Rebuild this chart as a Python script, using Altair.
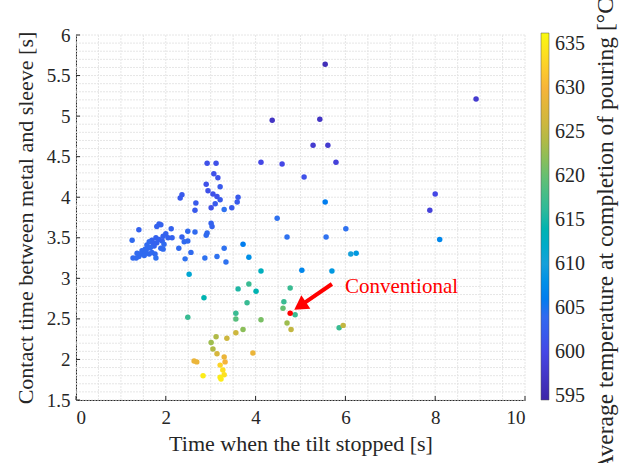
import altair as alt
import pandas as pd

# ---- data ----
tilt_time = [
    5.55, 8.91, 4.37, 5.43, 5.28, 5.61, 4.12, 4.59, 5.79, 5.08, 8.00, 7.88,
    2.92, 3.12, 3.07, 3.16, 2.90, 3.21, 2.94, 3.05, 3.14, 2.36, 2.32, 3.21,
    3.61, 3.59, 3.47, 3.10, 2.67, 3.01, 2.65, 3.30,
    4.48, 5.55, 6.01, 8.10, 4.70, 5.57, 6.12, 6.24, 5.70, 5.03, 4.12,
    1.85, 1.89, 1.80, 1.40, 2.12, 2.49, 2.65, 2.92, 3.01, 3.03, 2.90, 1.25,
    2.36, 2.41, 2.49, 2.00, 1.94, 2.05, 2.14, 1.69, 1.78, 1.85, 1.63, 1.71,
    1.80, 1.92, 1.96, 1.89, 1.94, 1.58, 1.60, 1.54, 1.47, 1.49, 1.43, 1.40,
    1.34, 1.27, 1.36, 1.63, 1.69, 1.76, 1.78, 2.29, 2.56, 2.43, 2.87, 3.14,
    3.34, 3.30, 3.72, 3.85, 2.52, 1.56, 1.52, 1.74, 1.66,
    3.85, 3.61, 4.01, 4.77, 2.85, 3.81, 4.63, 4.61, 4.88, 3.56, 2.49, 3.56,
    4.12, 4.70, 4.79, 5.86, 5.95, 3.72, 3.56, 3.12, 3.36, 3.01, 3.05, 3.14,
    3.30, 3.94, 2.63, 2.69, 3.32, 3.21, 3.27, 3.30, 3.21, 3.23, 2.83,
]
contact_time = [
    5.64, 5.21, 4.95, 4.96, 4.64, 4.64, 4.43, 4.41, 4.43, 4.25, 4.04, 3.84,
    4.42, 4.42, 4.29, 4.24, 4.16, 4.13, 4.08, 4.04, 4.01, 4.03, 3.99, 3.97,
    4.00, 3.94, 3.87, 3.92, 3.93, 3.87, 3.84, 3.85,
    3.74, 3.94, 3.61, 3.48, 3.51, 3.51, 3.30, 3.31, 3.09, 3.10, 3.09,
    3.67, 3.66, 3.64, 3.60, 3.61, 3.58, 3.57, 3.56, 3.68, 3.64, 3.53, 3.47,
    3.51, 3.45, 3.46, 3.55, 3.52, 3.50, 3.50, 3.47, 3.50, 3.48, 3.45, 3.44,
    3.44, 3.46, 3.42, 3.37, 3.36, 3.41, 3.37, 3.36, 3.34, 3.30, 3.30, 3.27,
    3.25, 3.25, 3.31, 3.30, 3.32, 3.30, 3.25, 3.37, 3.32, 3.24, 3.25, 3.27,
    3.20, 3.37, 3.42, 3.26, 3.05, 3.32, 3.28, 3.40, 3.38,
    2.93, 2.87, 2.84, 2.88, 2.76, 2.70, 2.71, 2.63, 2.55, 2.57, 2.52, 2.50,
    2.49, 2.45, 2.37, 2.39, 2.42, 2.37, 2.33, 2.28, 2.26, 2.21, 2.13, 2.07,
    2.03, 2.08, 1.98, 1.97, 1.97, 1.93, 1.87, 1.81, 1.78, 1.76, 1.80,
]
avg_temp = [
    596, 598, 597, 597, 598, 598, 600, 600, 599, 601, 600, 599,
    601, 601, 601, 601, 601, 602, 601, 601, 601, 602, 602, 602,
    602, 602, 602, 602, 602, 601, 602, 605,
    605, 606, 605, 607, 605, 605, 610, 609, 609, 607, 613,
    603, 603, 603, 603, 603, 604, 604, 604, 603, 603, 604, 604,
    603, 604, 604, 603, 603, 603, 603, 603, 603, 603, 604, 603,
    603, 603, 604, 604, 604, 604, 604, 604, 604, 604, 604, 604,
    604, 604, 604, 604, 604, 604, 605, 604, 604, 605, 605, 605,
    605, 605, 606, 608, 611, 604, 604, 603, 604,
    617, 615, 614, 617, 614, 617, 617, 620, 617, 617, 617, 619,
    621, 623, 625, 617, 625, 622, 626, 624, 626, 623, 624, 627,
    629, 629, 629, 629, 630, 633, 634, 634, 635, 635, 635,
]

conv_x = [4.77]
conv_y = [2.57]
conv_label = ["Conventional"]
label_x = [5.99]
label_y = [2.89]
arrow_x = [5.70]
arrow_y = [2.93]
arrow_x2 = [4.99]
arrow_y2 = [2.66]

x_major = [0, 2, 4, 6, 8, 10]
y_major = [1.5, 2, 2.5, 3, 3.5, 4, 4.5, 5, 5.5, 6]
x_grid = [i * 0.5 for i in range(21)]
y_grid = [round(1.5 + i * 0.1, 2) for i in range(46)]

temp_domain = [594.5, 600, 605, 610, 615, 620, 625, 630, 636.3]
temp_colors = ["#3e26a8", "#4547e6", "#2f72f0", "#16a0da", "#1fb6a4",
               "#66bf72", "#c3b742", "#f6b43a", "#f9fb0e"]
temp_ticks = [595, 600, 605, 610, 615, 620, 625, 630, 635]
cbar_title = ["Average temperature at completion of pouring [°C]"]

FONT = "Liberation Serif"
TXT = "#262626"
W, H = 449, 365

df = pd.DataFrame({"t": tilt_time, "c": contact_time, "T": avg_temp})

xs = alt.Scale(domain=[0, 10], nice=False, zero=False)
ys = alt.Scale(domain=[1.5, 6], nice=False, zero=False)
AX = alt.Axis(title="Time when the tilt stopped [s]", values=x_major, format="~r",
              grid=False, tickSize=0, labelPadding=8, titlePadding=6,
              labelFont=FONT, labelFontSize=19, titleFont=FONT, titleFontSize=22,
              titleFontWeight="normal", labelColor=TXT, titleColor=TXT)
AY = alt.Axis(title="Contact time between metal and sleeve [s]", values=y_major,
              format="~r", grid=False, tickSize=0, labelPadding=6, titlePadding=9,
              labelFont=FONT, labelFontSize=19, titleFont=FONT, titleFontSize=22,
              titleFontWeight="normal", labelColor=TXT, titleColor=TXT)


def X(f):
    return alt.X(f, type="quantitative", scale=xs, axis=AX)


def Y(f):
    return alt.Y(f, type="quantitative", scale=ys, axis=AY)


gx = alt.Chart(pd.DataFrame({"g": x_grid})).mark_rule(
    color="#e6e6e6", strokeWidth=1, strokeDash=[2, 1]
).encode(x=X("g"))

gy = alt.Chart(pd.DataFrame({"g": y_grid})).mark_rule(
    color="#e6e6e6", strokeWidth=1, strokeDash=[2, 1]
).encode(y=Y("g"))

pts = alt.Chart(df).mark_circle(size=30, opacity=1).encode(
    x=X("t"),
    y=Y("c"),
    color=alt.Color("T:Q", scale=alt.Scale(domain=temp_domain, range=temp_colors),
                    legend=alt.Legend(
                        title=None, orient="none", legendX=465, legendY=-2,
                        direction="vertical", gradientLength=367,
                        gradientThickness=8, values=temp_ticks, padding=0,
                        labelFont=FONT, labelFontSize=20, labelColor=TXT,
                        labelOffset=6, gradientStrokeColor="#555555",
                        gradientStrokeWidth=0.5)),
)

xticks = alt.Chart(pd.DataFrame({"v": x_major})).mark_rule(
    color=TXT).encode(x=X("v"), y=alt.value(H), y2=alt.value(H - 4))
yticks = alt.Chart(pd.DataFrame({"v": y_major})).mark_rule(
    color=TXT).encode(y=Y("v"), x=alt.value(0), x2=alt.value(4))

conv = alt.Chart(pd.DataFrame({"x": conv_x, "y": conv_y})).mark_circle(
    size=30, opacity=1, color="#ff0000").encode(x=X("x"), y=Y("y"))

arrow_line = alt.Chart(pd.DataFrame({"x": arrow_x, "y": arrow_y,
                                     "x2": arrow_x2, "y2": arrow_y2})).mark_rule(
    color="#ff0000", strokeWidth=4).encode(x=X("x"), y=Y("y"), x2="x2:Q", y2="y2:Q")

arrow_head = alt.Chart(pd.DataFrame({"x": arrow_x2, "y": arrow_y2})).mark_point(
    shape="triangle-up", filled=True, size=260, angle=236, color="#ff0000",
    opacity=1).encode(x=X("x"), y=Y("y"))

label = alt.Chart(pd.DataFrame({"x": label_x, "y": label_y, "s": conv_label})).mark_text(
    align="left", baseline="middle", font=FONT, fontSize=21, color="#ff0000").encode(
    x=X("x"), y=Y("y"), text="s:N")

ctitle = alt.Chart(pd.DataFrame({"s": cbar_title})).mark_text(
    angle=270, align="center", baseline="middle", font=FONT, fontSize=23.5,
    color=TXT).encode(x=alt.value(530), y=alt.value(196), text="s:N")

chart = alt.layer(gx, gy, pts, xticks, yticks, arrow_line, arrow_head, conv, label, ctitle).properties(
    width=W, height=H,
    autosize=alt.AutoSizeParams(type="none"),
    padding={"left": 76, "top": 35, "right": 100, "bottom": 63},
    background="white",
).configure_view(stroke=None).configure_axis(
    labelFont=FONT, titleFont=FONT, domainColor=TXT, domainWidth=1,
).configure_legend(labelFont=FONT, labelFontSize=20, labelColor=TXT)

chart.save("out.html", embed_options={"renderer": "svg", "actions": False})
